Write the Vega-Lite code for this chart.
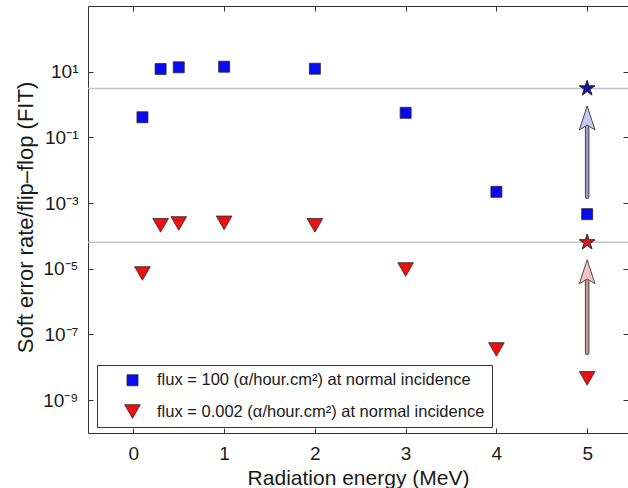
{
  "$schema": "https://vega.github.io/schema/vega-lite/v6.json",
  "width": 540,
  "height": 427,
  "autosize": {"type": "none"},
  "padding": {"left": 88, "top": 6, "right": 0, "bottom": 55},
  "background": "white",
  "config": {
    "font": "Liberation Sans",
    "view": {"stroke": "#333333", "strokeWidth": 1},
    "axis": {"grid": false, "domain": false, "tickColor": "#333333", "tickWidth": 1, "labelColor": "#1a1a1a", "titleColor": "#1a1a1a", "labelFont": "Liberation Sans", "titleFont": "Liberation Sans"}
  },
  "datasets": {
    "pts": [
      {"x": 0.1, "y": 0.41, "series": "flux = 100 (α/hour.cm²) at normal incidence"},
      {"x": 0.3, "y": 12.1, "series": "flux = 100 (α/hour.cm²) at normal incidence"},
      {"x": 0.5, "y": 13.6, "series": "flux = 100 (α/hour.cm²) at normal incidence"},
      {"x": 1, "y": 14.2, "series": "flux = 100 (α/hour.cm²) at normal incidence"},
      {"x": 2, "y": 12.3, "series": "flux = 100 (α/hour.cm²) at normal incidence"},
      {"x": 3, "y": 0.56, "series": "flux = 100 (α/hour.cm²) at normal incidence"},
      {"x": 4, "y": 0.0022, "series": "flux = 100 (α/hour.cm²) at normal incidence"},
      {"x": 5, "y": 0.00046, "series": "flux = 100 (α/hour.cm²) at normal incidence"},
      {"x": 0.1, "y": 7.2e-6, "series": "flux = 0.002 (α/hour.cm²) at normal incidence"},
      {"x": 0.3, "y": 2.1e-4, "series": "flux = 0.002 (α/hour.cm²) at normal incidence"},
      {"x": 0.5, "y": 2.4e-4, "series": "flux = 0.002 (α/hour.cm²) at normal incidence"},
      {"x": 1, "y": 2.5e-4, "series": "flux = 0.002 (α/hour.cm²) at normal incidence"},
      {"x": 2, "y": 2.1e-4, "series": "flux = 0.002 (α/hour.cm²) at normal incidence"},
      {"x": 3, "y": 9.5e-6, "series": "flux = 0.002 (α/hour.cm²) at normal incidence"},
      {"x": 4, "y": 3.5e-8, "series": "flux = 0.002 (α/hour.cm²) at normal incidence"},
      {"x": 5, "y": 4.6e-9, "series": "flux = 0.002 (α/hour.cm²) at normal incidence"}
    ],
    "refs": [{"y": 3.1}, {"y": 6.4e-5}],
    "stars": [{"x": 5, "y": 3.1, "flux": "100"}, {"x": 5, "y": 6.4e-5, "flux": "0.002"}],
    "arrows": [
      {"x": 5, "y0": 0.00156, "y1": 0.235, "yh": 0.389, "flux": "100"},
      {"x": 5, "y0": 2.76e-8, "y1": 4.9e-6, "yh": 8.1e-6, "flux": "0.002"}
    ]
  },
  "layer": [
    {
      "data": {"name": "refs"},
      "mark": {"type": "rule", "color": "#c4c4c4", "strokeWidth": 1.5},
      "encoding": {
        "y": {"field": "y", "type": "quantitative", "scale": {"type": "log", "domain": [1e-10, 1000], "nice": false}, "axis": null}
      }
    },
    {
      "data": {"name": "arrows"},
      "mark": {"type": "rule", "color": "#4a4a4a", "strokeWidth": 4.5, "strokeCap": "round"},
      "encoding": {
        "x": {"field": "x", "type": "quantitative", "scale": {"domain": [-0.5, 5.45], "nice": false, "zero": false}, "axis": null},
        "y": {"field": "y0", "type": "quantitative", "scale": {"type": "log", "domain": [1e-10, 1000], "nice": false}, "axis": null},
        "y2": {"field": "y1"}
      }
    },
    {
      "data": {"name": "arrows"},
      "mark": {"type": "rule", "strokeWidth": 2.5, "strokeCap": "round"},
      "encoding": {
        "x": {"field": "x", "type": "quantitative", "scale": {"domain": [-0.5, 5.45], "nice": false, "zero": false}, "axis": null},
        "y": {"field": "y0", "type": "quantitative", "scale": {"type": "log", "domain": [1e-10, 1000], "nice": false}, "axis": null},
        "y2": {"field": "y1"},
        "stroke": {"field": "flux", "type": "nominal", "scale": {"domain": ["100", "0.002"], "range": ["#9a9acb", "#c29a9a"]}, "legend": null}
      }
    },
    {
      "data": {"name": "arrows"},
      "mark": {"type": "point", "filled": true, "opacity": 1, "shape": "M0,-1L0.654,1L0,0.6L-0.654,1Z", "size": 576, "stroke": "#4a4a4a", "strokeWidth": 1},
      "encoding": {
        "x": {"field": "x", "type": "quantitative", "scale": {"domain": [-0.5, 5.45], "nice": false, "zero": false}, "axis": null},
        "y": {"field": "yh", "type": "quantitative", "scale": {"type": "log", "domain": [1e-10, 1000], "nice": false}, "axis": null},
        "fill": {"field": "flux", "type": "nominal", "scale": {"domain": ["100", "0.002"], "range": ["#c6c6f2", "#f6c4c4"]}, "legend": null}
      }
    },
    {
      "data": {"name": "stars"},
      "mark": {"type": "point", "filled": true, "opacity": 1, "shape": "M0,-1L0.225,-0.309L0.951,-0.309L0.363,0.118L0.588,0.809L0,0.382L-0.588,0.809L-0.363,0.118L-0.951,-0.309L-0.225,-0.309Z", "size": 272, "stroke": "#222222", "strokeWidth": 1},
      "encoding": {
        "x": {"field": "x", "type": "quantitative", "scale": {"domain": [-0.5, 5.45], "nice": false, "zero": false},
          "axis": {"orient": "top", "values": [0, 1, 2, 3, 4, 5], "tickSize": -5, "labels": false, "title": null}},
        "y": {"field": "y", "type": "quantitative", "scale": {"type": "log", "domain": [1e-10, 1000], "nice": false},
          "axis": {"orient": "right", "values": [10, 0.1, 0.001, 1e-5, 1e-7, 1e-9], "tickSize": -5, "labels": false, "title": null}},
        "fill": {"field": "flux", "type": "nominal", "scale": {"domain": ["100", "0.002"], "range": ["#1414a8", "#d41c1c"]}, "legend": null}
      }
    },
    {
      "data": {"name": "pts"},
      "mark": {"type": "point", "filled": true, "opacity": 1, "stroke": "#2a2a2a", "strokeWidth": 0.8},
      "encoding": {
        "x": {"field": "x", "type": "quantitative", "scale": {"domain": [-0.5, 5.45], "nice": false, "zero": false},
          "axis": {"orient": "bottom", "values": [0, 1, 2, 3, 4, 5], "tickSize": -5, "labelPadding": 16, "labelFontSize": 19,
            "title": "Radiation energy (MeV)", "titleFontSize": 21, "titleFontWeight": "normal", "titleBaseline": "alphabetic", "titleX": 270, "titleY": 51, "titleAnchor": "middle", "titleAlign": "center"}},
        "y": {"field": "y", "type": "quantitative", "scale": {"type": "log", "domain": [1e-10, 1000], "nice": false},
          "axis": {"orient": "left", "values": [10, 0.1, 0.001, 1e-5, 1e-7, 1e-9], "tickSize": -5, "labelPadding": 15, "labelFontSize": 19,
            "labelExpr": "datum.value > 1 ? '10¹' : datum.value > 0.01 ? '10⁻¹' : datum.value > 0.0001 ? '10⁻³' : datum.value > 0.000001 ? '10⁻⁵' : datum.value > 0.00000001 ? '10⁻⁷' : '10⁻⁹'",
            "title": "Soft error rate/flip–flop (FIT)", "titleFontSize": 22, "titleFontWeight": "normal", "titleAngle": -90, "titleBaseline": "middle", "titleAlign": "center", "titleX": -63, "titleY": 211}},
        "color": {"field": "series", "type": "nominal",
          "scale": {"domain": ["flux = 100 (α/hour.cm²) at normal incidence", "flux = 0.002 (α/hour.cm²) at normal incidence"], "range": ["#0a0af0", "#ee1010"]},
          "legend": {"title": null, "orient": "none", "legendX": 9, "legendY": 359, "strokeColor": "#333333", "fillColor": "white", "padding": 7,
            "labelFontSize": 16.5, "labelColor": "#1a1a1a", "symbolOffset": 20, "labelOffset": 16, "rowPadding": 14, "symbolStrokeColor": "#2a2a2a", "symbolStrokeWidth": 0.8, "labelLimit": 600,
            "labelExpr": "datum.label + '\u00a0\u00a0\u00a0\u00a0\u00a0\u00a0'"}},
        "shape": {"field": "series", "type": "nominal",
          "scale": {"domain": ["flux = 100 (α/hour.cm²) at normal incidence", "flux = 0.002 (α/hour.cm²) at normal incidence"], "range": ["square", "triangle-down"]}},
        "size": {"field": "series", "type": "nominal",
          "scale": {"domain": ["flux = 100 (α/hour.cm²) at normal incidence", "flux = 0.002 (α/hour.cm²) at normal incidence"], "range": [121, 246]}}
      }
    }
  ],
  "resolve": {"axis": {"x": "independent", "y": "independent"}, "scale": {"fill": "independent", "stroke": "independent"}}
}
